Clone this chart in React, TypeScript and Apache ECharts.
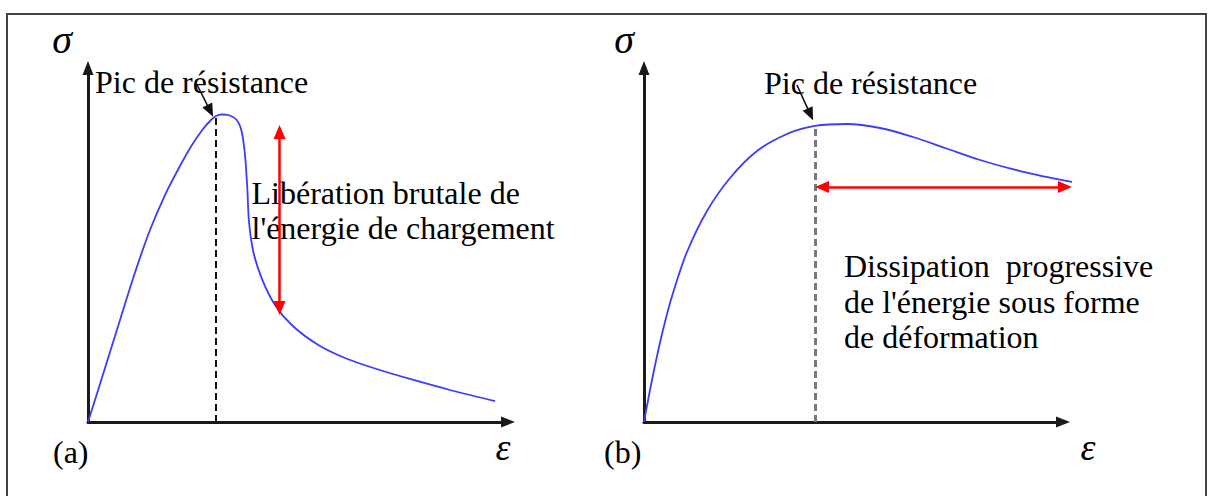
import React, { useEffect, useRef } from 'react';
import * as echarts from 'echarts';

// Strain (ε) and stress (σ) in arbitrary units, 0–100 on both axes.
// (a) brittle behaviour: sharp peak followed by a sudden drop
const strainA = [0, 4.05, 7.62, 11.19, 14.76, 18.33, 21.9, 24.76, 27.38, 29.29, 30.48, 31.9, 33.33, 35.4, 36.6, 37.38, 37.93, 38.33, 39.36, 41.36, 44.52, 48.5, 54.83, 61.19, 68.33, 76.67, 86.19, 96.9];
const stressA = [0, 15.25, 28.81, 42.23, 54.24, 64.12, 72.32, 78.25, 82.77, 85.31, 86.44, 86.86, 86.72, 85.31, 82.01, 75.42, 66.02, 56.58, 48.11, 40.59, 33.05, 27.4, 21.75, 18.08, 15.11, 12.15, 9.04, 5.93];

// (b) ductile behaviour: rounded peak and slow softening
const strainB = [0, 2.15, 4.53, 6.92, 10.26, 15.04, 20.53, 26.97, 34.13, 40.81, 48.45, 56.32, 64.2, 71.84, 80.19, 89.74, 102.15];
const stressB = [0, 13.28, 25.99, 36.44, 48.02, 59.6, 68.93, 76.55, 81.36, 83.62, 84.18, 83.05, 80.51, 77.4, 74.01, 70.9, 67.8];

// Peak of each curve (strain, stress)
const peakA = [30.4, 86.4];
const peakB = [40.81, 83.62];

// Red double arrows: (a) vertical drop, (b) horizontal span
const dropA = { strain: 45.6, top: 81.92, bottom: 32.2 };
const spanB = { stress: 66.38, left: 42.48, right: 100.48 };

// Pointers from the "Pic de résistance" labels to the peaks
const pointerA = [[26.0, 95.2], [29.1, 87.9]];
const pointerB = [[36.5, 95.2], [39.7, 86.9]];

const SERIF = "'Liberation Serif', 'Times New Roman', serif";
const AXIS_COLOR = '#1a1a1a';
const CURVE_COLOR = '#3c3cff';

const zip = (xs: number[], ys: number[]) => xs.map((x, i) => [x, ys[i]]);

// Visible axes: 0–100 with an arrow at the end
const visibleAxis = (gridIndex: number) => ({
  gridIndex,
  type: 'value' as const,
  min: 0,
  max: 100,
  axisTick: { show: false },
  axisLabel: { show: false },
  splitLine: { show: false },
  axisLine: {
    show: true,
    symbol: ['none', 'triangle'],
    symbolSize: [11, 14],
    lineStyle: { color: AXIS_COLOR, width: 3 },
  },
});

// Hidden axes sharing the same scale but a wider range, so marks may run past the arrow
const hiddenAxis = (gridIndex: number, max: number) => ({
  gridIndex,
  type: 'value' as const,
  min: 0,
  max,
  show: false,
});

const dashed = (peak: number[], color: string, width: number) => [
  { coord: [peak[0], 0], symbol: 'none', lineStyle: { color, width, type: [7, 4] } },
  { coord: [peak[0], peak[1]], symbol: 'none' },
];

const pointer = (p: number[][]) => [
  { coord: p[0], symbol: 'none', lineStyle: { color: '#111', width: 1.6, type: 'solid' } },
  { coord: p[1], symbol: 'triangle', symbolSize: [11, 13] },
];

const redArrow = (from: number[], to: number[]) => [
  { coord: from, symbol: 'triangle', symbolSize: [12, 14], lineStyle: { color: '#ff0000', width: 2.5, type: 'solid' } },
  { coord: to, symbol: 'triangle', symbolSize: [12, 14] },
];

const textStyle = (text: string, size: number, extra: Record<string, unknown> = {}) => ({
  text,
  fontSize: size,
  fontFamily: SERIF,
  fill: '#000',
  ...extra,
});

const markLineBase = {
  silent: true,
  label: { show: false },
  emphasis: { disabled: true },
};

export default function App() {
  const ref = useRef<HTMLDivElement>(null);

  useEffect(() => {
    if (!ref.current) return;
    const chart = echarts.init(ref.current, undefined, { renderer: 'svg' });

    // panel (b): 100 units over 419 px; the hidden grid extends to 105 units at the same scale
    const bLeft = 644;
    const bUnit = 4.19;
    const bHiddenMax = 105;

    chart.setOption({
      animation: false,
      backgroundColor: '#ffffff',
      grid: [
        { left: 88, right: 705, top: 68, bottom: 74, outerBoundsMode: 'none' },
        { left: bLeft, right: 1213 - bLeft - 100 * bUnit, top: 68, bottom: 74, outerBoundsMode: 'none' },
        { left: bLeft, right: 1213 - bLeft - bHiddenMax * bUnit, top: 68, bottom: 74, outerBoundsMode: 'none' },
      ],
      xAxis: [visibleAxis(0), visibleAxis(1), hiddenAxis(2, bHiddenMax)],
      yAxis: [visibleAxis(0), visibleAxis(1), hiddenAxis(2, 100)],
      series: [
        {
          type: 'line',
          xAxisIndex: 0,
          yAxisIndex: 0,
          data: zip(strainA, stressA),
          smooth: 0.3,
          symbol: 'none',
          clip: false,
          silent: true,
          lineStyle: { color: CURVE_COLOR, width: 1.8 },
          markLine: {
            ...markLineBase,
            data: [
              dashed(peakA, '#111', 2),
              pointer(pointerA),
              redArrow([dropA.strain, dropA.top], [dropA.strain, dropA.bottom]),
            ],
          },
        },
        {
          type: 'line',
          xAxisIndex: 2,
          yAxisIndex: 2,
          data: zip(strainB, stressB),
          smooth: 0.35,
          symbol: 'none',
          clip: false,
          silent: true,
          lineStyle: { color: CURVE_COLOR, width: 1.8 },
          markLine: {
            ...markLineBase,
            data: [
              dashed(peakB, '#7a7a7a', 3),
              pointer(pointerB),
              redArrow([spanB.left, spanB.stress], [spanB.right, spanB.stress]),
            ],
          },
        },
      ],
      graphic: [
        {
          type: 'rect',
          silent: true,
          shape: { x: 7, y: 14, width: 1199, height: 500 },
          style: { fill: 'none', stroke: '#444', lineWidth: 2 },
          z: -1,
        },
        // Axis symbols
        { type: 'text', x: 62, y: 39, style: textStyle('σ', 40, { fontStyle: 'italic', align: 'center', verticalAlign: 'middle' }) },
        { type: 'text', x: 624, y: 39, style: textStyle('σ', 40, { fontStyle: 'italic', align: 'center', verticalAlign: 'middle' }) },
        { type: 'text', x: 503, y: 447, style: textStyle('ε', 38, { fontStyle: 'italic', align: 'center', verticalAlign: 'middle' }) },
        { type: 'text', x: 1088, y: 447, style: textStyle('ε', 38, { fontStyle: 'italic', align: 'center', verticalAlign: 'middle' }) },
        // Panel tags
        { type: 'text', x: 53, y: 451.5, style: textStyle('(a)', 32, { align: 'left', verticalAlign: 'middle' }) },
        { type: 'text', x: 604, y: 451.5, style: textStyle('(b)', 32, { align: 'left', verticalAlign: 'middle' }) },
        // Annotations
        { type: 'text', x: 95, y: 81.5, style: textStyle('Pic de résistance', 32, { align: 'left', verticalAlign: 'middle' }) },
        { type: 'text', x: 764, y: 82.5, style: textStyle('Pic de résistance', 32, { align: 'left', verticalAlign: 'middle' }) },
        {
          type: 'text',
          x: 251.5,
          y: 175,
          style: textStyle("Libération brutale de\nl'énergie de chargement", 32, { align: 'left', verticalAlign: 'top', lineHeight: 35.5 }),
        },
        {
          type: 'text',
          x: 844,
          y: 248.5,
          style: textStyle("Dissipation  progressive\nde l'énergie sous forme\nde déformation", 32, { align: 'left', verticalAlign: 'top', lineHeight: 35.5 }),
        },
      ],
    });

    return () => chart.dispose();
  }, []);

  return (
    <div
      ref={ref}
      style={{ position: 'absolute', left: 0, top: 0, width: 1213, height: 496, background: '#fff' }}
    />
  );
}
